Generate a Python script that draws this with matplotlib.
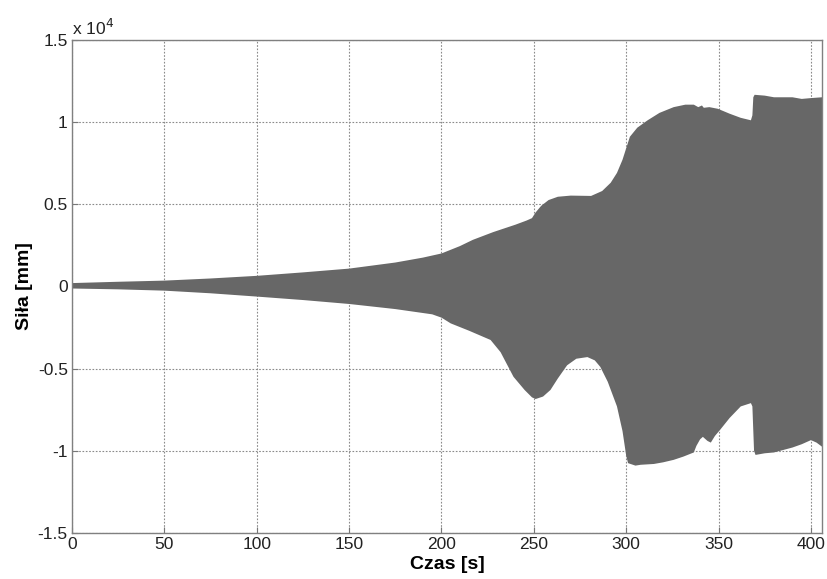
import matplotlib
matplotlib.use("Agg")
import matplotlib.pyplot as plt

# czas [s] i obwiednia sygnalu (gorna / dolna)
t_upper = [0, 25, 50, 75, 100, 125, 150, 175, 190, 200, 210, 217, 228, 240, 246, 249, 251, 254,
           258, 263, 270, 281, 287, 291.6, 295, 298, 300, 302, 306, 311.6, 318, 325.7, 332, 336.6,
           339, 341, 342, 345, 349.6, 356, 362, 367.5, 368.3, 368.8, 369.5, 375, 380, 390, 395,
           400, 406]
upper = [200, 280, 350, 480, 640, 850, 1080, 1450, 1750, 2000, 2450, 2830, 3300, 3750, 4000,
         4150, 4500, 4900, 5250, 5450, 5520, 5500, 5800, 6300, 6900, 7700, 8400, 9100, 9650,
         10100, 10550, 10900, 11050, 11050, 10900, 11000, 10860, 10900, 10800, 10500, 10250,
         10100, 10400, 11500, 11650, 11600, 11500, 11500, 11400, 11450, 11500]

t_lower = [0, 25, 50, 75, 100, 125, 150, 175, 195, 200, 205, 215, 226.6, 232, 239, 245, 249,
           251, 255, 259, 263, 268, 273, 279, 283, 286, 290, 295, 298, 300, 301, 305, 307.8, 315,
           320, 325.7, 331, 336.6, 338, 340, 341.5, 344, 345.8, 348, 351, 356, 362, 367.5, 368.3,
           369.2, 370, 375, 380, 390, 395, 400, 403, 406]
lower = [-130, -180, -260, -420, -620, -830, -1070, -1380, -1700, -1900, -2250, -2700, -3260,
         -4000, -5500, -6300, -6750, -6850, -6700, -6300, -5600, -4800, -4400, -4300, -4500,
         -4900, -5800, -7300, -8800, -10300, -10750, -10900, -10850, -10800, -10700, -10550,
         -10350, -10100, -9700, -9300, -9150, -9400, -9500, -9100, -8700, -8000, -7300, -7100,
         -7300, -10000, -10250, -10150, -10100, -9800, -9600, -9350, -9500, -9750]

xticks = [0, 50, 100, 150, 200, 250, 300, 350, 400]
yticks = [-15000, -10000, -5000, 0, 5000, 10000, 15000]
ytick_labels = ["-1.5", "-1", "-0.5", "0", "0.5", "1", "1.5"]

plt.rcParams['font.family'] = ['Liberation Sans', 'DejaVu Sans']

fig = plt.figure(figsize=(8.27, 5.79), dpi=100)
ax = fig.add_axes([0.087, 0.0794, 0.907, 0.852])

# obszar sygnalu: gorna obwiednia i dolna w odwrotnej kolejnosci
xs = t_upper + t_lower[::-1]
ys = upper + lower[::-1]
ax.fill(xs, ys, color='#676767', linewidth=0, zorder=2)

ax.set_xlim(0, 406)
ax.set_ylim(-15000, 15000)
ax.set_xticks(xticks)
ax.set_yticks(yticks)
ax.set_yticklabels(ytick_labels)
ax.tick_params(direction='in', length=4, labelsize=12.5, color='#777777', pad=3,
               labelcolor='#222222')
for s in ax.spines.values():
    s.set_color('#808080')
    s.set_linewidth(1.0)
ax.grid(True, linestyle=(0, (1.5, 1.5)), color='#8a8a8a', linewidth=0.8, zorder=1)
ax.set_axisbelow(True)

ax.text(0.0, 1.003, r"x 10$^4$", transform=ax.transAxes, fontsize=12.5, ha='left',
        va='bottom', color='#222222')
ax.set_xlabel("Czas [s]", fontsize=14, fontweight='bold', labelpad=3)
ax.set_ylabel("Siła [mm]", fontsize=14, fontweight='bold', labelpad=3)

fig.savefig("out.png", dpi=100)
